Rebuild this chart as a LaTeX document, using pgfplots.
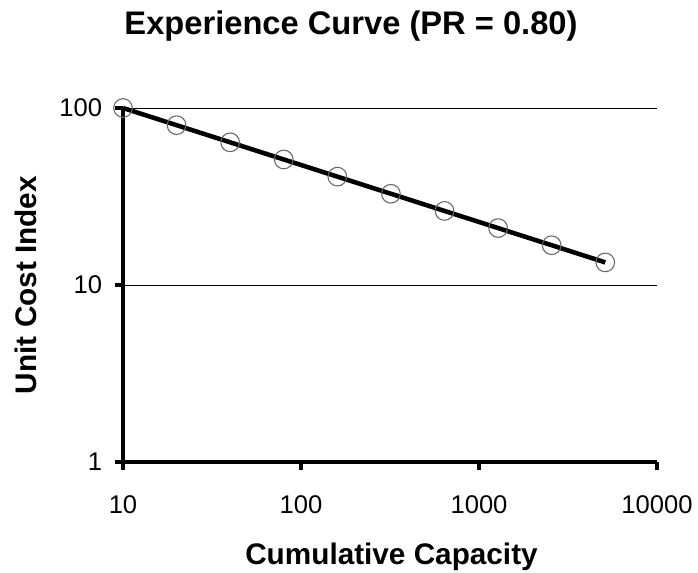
\documentclass[border=0pt]{standalone}
\usepackage{pgfplots}
\pgfplotsset{compat=1.18}
\usepackage{fontspec}
\setmainfont{Liberation Sans}

% experience curve: cost falls to 80% with each doubling of capacity
\pgfplotstableread{
cap   cost
10    100
20    80
40    64
80    51.2
160   40.96
320   32.768
640   26.2144
1280  20.97152
2560  16.777216
5120  13.4217728
}\curvedata

\begin{document}
\begin{tikzpicture}[x=0.75pt,y=0.75pt]
\path[use as bounding box] (-123,-110) rectangle (575,462);
\begin{axis}[
  at={(0,0)}, anchor=south west,
  scale only axis,
  width=400.5pt, height=265.5pt,
  xmode=log, ymode=log,
  xmin=10, xmax=10000, ymin=1, ymax=100,
  axis x line=bottom, axis y line=left,
  axis line style={line width=3.3pt, -},
  every tick/.style={black, line width=2.8pt},
  tick align=outside,
  major tick length=6pt,
  minor tick num=0,
  subtickwidth=0pt,
  xtick={10,100,1000,10000},
  ytick={1,10,100},
  xticklabels={10,100,1000,10000},
  yticklabels={1,10,100},
  /pgf/number format/assume math mode=true,
  tick label style={font=\fontsize{19.2}{22}\selectfont, inner sep=0pt},
  xticklabel style={anchor=base, yshift=-33pt},
  yticklabel style={anchor=east, xshift=-9.5pt},
  ymajorgrids,
  major grid style={black, line width=0.75pt},
  clip=false,
]
\addplot[black, line width=3.4pt, mark=o,
  mark size=7pt,
  mark options={draw=black!60, line width=0.8pt, fill=none}]
  table[x=cap, y=cost] {\curvedata};
\end{axis}
\node[anchor=base, font=\bfseries\fontsize{24.5}{28}\selectfont] at (228,427) {Experience Curve (PR = 0.80)};
\node[anchor=base, font=\bfseries\fontsize{22.3}{26}\selectfont] at (268.5,-102) {Cumulative Capacity};
\node[anchor=base, rotate=90, font=\bfseries\fontsize{22.3}{26}\selectfont] at (-86,177) {Unit Cost Index};
\end{tikzpicture}
\end{document}
